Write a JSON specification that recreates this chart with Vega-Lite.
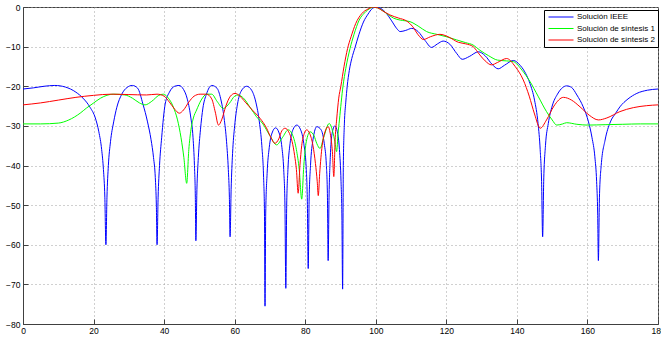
{
  "$schema": "https://vega.github.io/schema/vega-lite/v6.json",
  "autosize": {"type": "none"},
  "width": 635,
  "height": 317,
  "padding": {"left": 23, "top": 7, "right": 3, "bottom": 17},
  "background": "#ffffff",
  "config": {
    "view": {"stroke": "#404040", "strokeWidth": 1},
    "font": "Liberation Sans",
    "axis": {
      "domain": true,
      "domainColor": "#404040",
      "grid": true,
      "gridColor": "#a0a0a0",
      "gridDash": [1, 3],
      "gridWidth": 1,
      "tickColor": "#404040",
      "tickSize": -5,
      "labelFont": "Liberation Sans",
      "labelFontSize": 8.5,
      "labelColor": "#000000",
      "title": null
    }
  },
  "data": {
    "values": [
      {"x": 0, "y": -20.7, "s": "Solución IEEE"},
      {"x": 3, "y": -20.4, "s": "Solución IEEE"},
      {"x": 6, "y": -20.0, "s": "Solución IEEE"},
      {"x": 9, "y": -19.8, "s": "Solución IEEE"},
      {"x": 12, "y": -20.2, "s": "Solución IEEE"},
      {"x": 15, "y": -21.5, "s": "Solución IEEE"},
      {"x": 17, "y": -23.0, "s": "Solución IEEE"},
      {"x": 19, "y": -25.3, "s": "Solución IEEE"},
      {"x": 20.5, "y": -28, "s": "Solución IEEE"},
      {"x": 21.5, "y": -31.5, "s": "Solución IEEE"},
      {"x": 22.3, "y": -36, "s": "Solución IEEE"},
      {"x": 22.8, "y": -41, "s": "Solución IEEE"},
      {"x": 23.2, "y": -48, "s": "Solución IEEE"},
      {"x": 23.5, "y": -60, "s": "Solución IEEE"},
      {"x": 23.8, "y": -48, "s": "Solución IEEE"},
      {"x": 24.2, "y": -40, "s": "Solución IEEE"},
      {"x": 24.8, "y": -34, "s": "Solución IEEE"},
      {"x": 25.7, "y": -29, "s": "Solución IEEE"},
      {"x": 26.6, "y": -25.3, "s": "Solución IEEE"},
      {"x": 28, "y": -22, "s": "Solución IEEE"},
      {"x": 29.5, "y": -20.3, "s": "Solución IEEE"},
      {"x": 31, "y": -19.8, "s": "Solución IEEE"},
      {"x": 32.5, "y": -20.5, "s": "Solución IEEE"},
      {"x": 34, "y": -24.5, "s": "Solución IEEE"},
      {"x": 35.3, "y": -29, "s": "Solución IEEE"},
      {"x": 36.3, "y": -33.5, "s": "Solución IEEE"},
      {"x": 37, "y": -38, "s": "Solución IEEE"},
      {"x": 37.5, "y": -43, "s": "Solución IEEE"},
      {"x": 37.8, "y": -50, "s": "Solución IEEE"},
      {"x": 38, "y": -60, "s": "Solución IEEE"},
      {"x": 38.3, "y": -48, "s": "Solución IEEE"},
      {"x": 38.7, "y": -40, "s": "Solución IEEE"},
      {"x": 39.3, "y": -33, "s": "Solución IEEE"},
      {"x": 40.3, "y": -24.5, "s": "Solución IEEE"},
      {"x": 41.5, "y": -21.5, "s": "Solución IEEE"},
      {"x": 43, "y": -20, "s": "Solución IEEE"},
      {"x": 44.2, "y": -19.8, "s": "Solución IEEE"},
      {"x": 45.5, "y": -20.8, "s": "Solución IEEE"},
      {"x": 46.5, "y": -23, "s": "Solución IEEE"},
      {"x": 47.5, "y": -27.5, "s": "Solución IEEE"},
      {"x": 48.2, "y": -33, "s": "Solución IEEE"},
      {"x": 48.6, "y": -40, "s": "Solución IEEE"},
      {"x": 48.85, "y": -48, "s": "Solución IEEE"},
      {"x": 49, "y": -59, "s": "Solución IEEE"},
      {"x": 49.3, "y": -46, "s": "Solución IEEE"},
      {"x": 49.7, "y": -38, "s": "Solución IEEE"},
      {"x": 50.3, "y": -31, "s": "Solución IEEE"},
      {"x": 51, "y": -25.5, "s": "Solución IEEE"},
      {"x": 52, "y": -22, "s": "Solución IEEE"},
      {"x": 53.5, "y": -19.8, "s": "Solución IEEE"},
      {"x": 55, "y": -20.5, "s": "Solución IEEE"},
      {"x": 56, "y": -23, "s": "Solución IEEE"},
      {"x": 57, "y": -28, "s": "Solución IEEE"},
      {"x": 57.7, "y": -34, "s": "Solución IEEE"},
      {"x": 58.2, "y": -41, "s": "Solución IEEE"},
      {"x": 58.5, "y": -48, "s": "Solución IEEE"},
      {"x": 58.7, "y": -58, "s": "Solución IEEE"},
      {"x": 59, "y": -46, "s": "Solución IEEE"},
      {"x": 59.4, "y": -37, "s": "Solución IEEE"},
      {"x": 60, "y": -30, "s": "Solución IEEE"},
      {"x": 60.8, "y": -24.5, "s": "Solución IEEE"},
      {"x": 61.8, "y": -21.3, "s": "Solución IEEE"},
      {"x": 63.4, "y": -20, "s": "Solución IEEE"},
      {"x": 64.8, "y": -21, "s": "Solución IEEE"},
      {"x": 66, "y": -24, "s": "Solución IEEE"},
      {"x": 67, "y": -29, "s": "Solución IEEE"},
      {"x": 67.7, "y": -35, "s": "Solución IEEE"},
      {"x": 68.2, "y": -43, "s": "Solución IEEE"},
      {"x": 68.45, "y": -52, "s": "Solución IEEE"},
      {"x": 68.6, "y": -75.5, "s": "Solución IEEE"},
      {"x": 68.8, "y": -52, "s": "Solución IEEE"},
      {"x": 69.2, "y": -42, "s": "Solución IEEE"},
      {"x": 69.8, "y": -35.5, "s": "Solución IEEE"},
      {"x": 70.6, "y": -31.8, "s": "Solución IEEE"},
      {"x": 71.6, "y": -30.5, "s": "Solución IEEE"},
      {"x": 72.6, "y": -31.8, "s": "Solución IEEE"},
      {"x": 73.4, "y": -35.5, "s": "Solución IEEE"},
      {"x": 73.9, "y": -41, "s": "Solución IEEE"},
      {"x": 74.25, "y": -50, "s": "Solución IEEE"},
      {"x": 74.5, "y": -71, "s": "Solución IEEE"},
      {"x": 74.75, "y": -50, "s": "Solución IEEE"},
      {"x": 75.1, "y": -41, "s": "Solución IEEE"},
      {"x": 75.7, "y": -34.5, "s": "Solución IEEE"},
      {"x": 76.5, "y": -31, "s": "Solución IEEE"},
      {"x": 77.6, "y": -29.8, "s": "Solución IEEE"},
      {"x": 78.7, "y": -31, "s": "Solución IEEE"},
      {"x": 79.6, "y": -34.5, "s": "Solución IEEE"},
      {"x": 80.3, "y": -41, "s": "Solución IEEE"},
      {"x": 80.6, "y": -49, "s": "Solución IEEE"},
      {"x": 80.85, "y": -66, "s": "Solución IEEE"},
      {"x": 81.1, "y": -49, "s": "Solución IEEE"},
      {"x": 81.5, "y": -40, "s": "Solución IEEE"},
      {"x": 82.2, "y": -33.5, "s": "Solución IEEE"},
      {"x": 83.3, "y": -30.2, "s": "Solución IEEE"},
      {"x": 84.5, "y": -31, "s": "Solución IEEE"},
      {"x": 85.4, "y": -34.5, "s": "Solución IEEE"},
      {"x": 86, "y": -40, "s": "Solución IEEE"},
      {"x": 86.3, "y": -48, "s": "Solución IEEE"},
      {"x": 86.5, "y": -64, "s": "Solución IEEE"},
      {"x": 86.75, "y": -48, "s": "Solución IEEE"},
      {"x": 87.1, "y": -38, "s": "Solución IEEE"},
      {"x": 87.6, "y": -32, "s": "Solución IEEE"},
      {"x": 88.4, "y": -30, "s": "Solución IEEE"},
      {"x": 89.1, "y": -31.5, "s": "Solución IEEE"},
      {"x": 89.7, "y": -36, "s": "Solución IEEE"},
      {"x": 90.15, "y": -44, "s": "Solución IEEE"},
      {"x": 90.4, "y": -53, "s": "Solución IEEE"},
      {"x": 90.6, "y": -71.2, "s": "Solución IEEE"},
      {"x": 90.8, "y": -40, "s": "Solución IEEE"},
      {"x": 91.1, "y": -29.5, "s": "Solución IEEE"},
      {"x": 91.5, "y": -24, "s": "Solución IEEE"},
      {"x": 91.9, "y": -20, "s": "Solución IEEE"},
      {"x": 92.5, "y": -16, "s": "Solución IEEE"},
      {"x": 93.2, "y": -13, "s": "Solución IEEE"},
      {"x": 94.1, "y": -10.3, "s": "Solución IEEE"},
      {"x": 95.2, "y": -7, "s": "Solución IEEE"},
      {"x": 96.5, "y": -3.8, "s": "Solución IEEE"},
      {"x": 97.8, "y": -1.8, "s": "Solución IEEE"},
      {"x": 99, "y": -0.4, "s": "Solución IEEE"},
      {"x": 100.2, "y": 0, "s": "Solución IEEE"},
      {"x": 101.5, "y": -0.4, "s": "Solución IEEE"},
      {"x": 103, "y": -1.6, "s": "Solución IEEE"},
      {"x": 104.5, "y": -3.5, "s": "Solución IEEE"},
      {"x": 106, "y": -5.5, "s": "Solución IEEE"},
      {"x": 106.9, "y": -6.2, "s": "Solución IEEE"},
      {"x": 108.5, "y": -5.9, "s": "Solución IEEE"},
      {"x": 110.2, "y": -5.4, "s": "Solución IEEE"},
      {"x": 112, "y": -6.2, "s": "Solución IEEE"},
      {"x": 114, "y": -8.5, "s": "Solución IEEE"},
      {"x": 115.8, "y": -10.2, "s": "Solución IEEE"},
      {"x": 117.5, "y": -9.3, "s": "Solución IEEE"},
      {"x": 119.1, "y": -8.6, "s": "Solución IEEE"},
      {"x": 121, "y": -9.4, "s": "Solución IEEE"},
      {"x": 123, "y": -11.8, "s": "Solución IEEE"},
      {"x": 124.5, "y": -13.2, "s": "Solución IEEE"},
      {"x": 126.5, "y": -12.5, "s": "Solución IEEE"},
      {"x": 129.1, "y": -11.3, "s": "Solución IEEE"},
      {"x": 131, "y": -12.3, "s": "Solución IEEE"},
      {"x": 133, "y": -14.5, "s": "Solución IEEE"},
      {"x": 134.7, "y": -15.6, "s": "Solución IEEE"},
      {"x": 136.5, "y": -14.7, "s": "Solución IEEE"},
      {"x": 139, "y": -13.5, "s": "Solución IEEE"},
      {"x": 141, "y": -14.8, "s": "Solución IEEE"},
      {"x": 142.5, "y": -16.8, "s": "Solución IEEE"},
      {"x": 143.7, "y": -19.3, "s": "Solución IEEE"},
      {"x": 145, "y": -23.5, "s": "Solución IEEE"},
      {"x": 146, "y": -29.4, "s": "Solución IEEE"},
      {"x": 146.6, "y": -36, "s": "Solución IEEE"},
      {"x": 147, "y": -44, "s": "Solución IEEE"},
      {"x": 147.3, "y": -58, "s": "Solución IEEE"},
      {"x": 147.6, "y": -44, "s": "Solución IEEE"},
      {"x": 148.1, "y": -35, "s": "Solución IEEE"},
      {"x": 148.9, "y": -29.4, "s": "Solución IEEE"},
      {"x": 150, "y": -25, "s": "Solución IEEE"},
      {"x": 151.5, "y": -22, "s": "Solución IEEE"},
      {"x": 153, "y": -20.3, "s": "Solución IEEE"},
      {"x": 154.1, "y": -19.9, "s": "Solución IEEE"},
      {"x": 155.5, "y": -20.3, "s": "Solución IEEE"},
      {"x": 157, "y": -22.2, "s": "Solución IEEE"},
      {"x": 158.8, "y": -25.2, "s": "Solución IEEE"},
      {"x": 160.3, "y": -29, "s": "Solución IEEE"},
      {"x": 161.3, "y": -33, "s": "Solución IEEE"},
      {"x": 162.1, "y": -37.8, "s": "Solución IEEE"},
      {"x": 162.6, "y": -44, "s": "Solución IEEE"},
      {"x": 162.9, "y": -52, "s": "Solución IEEE"},
      {"x": 163.1, "y": -64, "s": "Solución IEEE"},
      {"x": 163.4, "y": -48, "s": "Solución IEEE"},
      {"x": 163.9, "y": -40, "s": "Solución IEEE"},
      {"x": 165, "y": -33.6, "s": "Solución IEEE"},
      {"x": 166.5, "y": -29, "s": "Solución IEEE"},
      {"x": 168, "y": -26.8, "s": "Solución IEEE"},
      {"x": 169.2, "y": -25.2, "s": "Solución IEEE"},
      {"x": 171.5, "y": -23.2, "s": "Solución IEEE"},
      {"x": 174, "y": -21.8, "s": "Solución IEEE"},
      {"x": 177, "y": -21.0, "s": "Solución IEEE"},
      {"x": 180, "y": -20.7, "s": "Solución IEEE"},

      {"x": 0, "y": -29.5, "s": "Solución de síntesis 1"},
      {"x": 5, "y": -29.5, "s": "Solución de síntesis 1"},
      {"x": 10, "y": -29.3, "s": "Solución de síntesis 1"},
      {"x": 13, "y": -28.5, "s": "Solución de síntesis 1"},
      {"x": 16.2, "y": -26.8, "s": "Solución de síntesis 1"},
      {"x": 18, "y": -25.5, "s": "Solución de síntesis 1"},
      {"x": 19.9, "y": -24.3, "s": "Solución de síntesis 1"},
      {"x": 22, "y": -23, "s": "Solución de síntesis 1"},
      {"x": 25.6, "y": -22, "s": "Solución de síntesis 1"},
      {"x": 28.9, "y": -22.2, "s": "Solución de síntesis 1"},
      {"x": 31, "y": -23, "s": "Solución de síntesis 1"},
      {"x": 33, "y": -24.2, "s": "Solución de síntesis 1"},
      {"x": 34.6, "y": -24.7, "s": "Solución de síntesis 1"},
      {"x": 36.5, "y": -23.8, "s": "Solución de síntesis 1"},
      {"x": 38.5, "y": -22.3, "s": "Solución de síntesis 1"},
      {"x": 39.8, "y": -22, "s": "Solución de síntesis 1"},
      {"x": 41.2, "y": -23, "s": "Solución de síntesis 1"},
      {"x": 42.6, "y": -25.2, "s": "Solución de síntesis 1"},
      {"x": 43.8, "y": -28.5, "s": "Solución de síntesis 1"},
      {"x": 44.8, "y": -33, "s": "Solución de síntesis 1"},
      {"x": 45.6, "y": -38, "s": "Solución de síntesis 1"},
      {"x": 46.4, "y": -44.5, "s": "Solución de síntesis 1"},
      {"x": 47, "y": -36, "s": "Solución de síntesis 1"},
      {"x": 47.6, "y": -31, "s": "Solución de síntesis 1"},
      {"x": 48.3, "y": -28, "s": "Solución de síntesis 1"},
      {"x": 49.2, "y": -26, "s": "Solución de síntesis 1"},
      {"x": 50.5, "y": -23.5, "s": "Solución de síntesis 1"},
      {"x": 52.1, "y": -22, "s": "Solución de síntesis 1"},
      {"x": 53.5, "y": -22, "s": "Solución de síntesis 1"},
      {"x": 55, "y": -23.8, "s": "Solución de síntesis 1"},
      {"x": 56.8, "y": -25.6, "s": "Solución de síntesis 1"},
      {"x": 58.5, "y": -24.3, "s": "Solución de síntesis 1"},
      {"x": 60, "y": -22.5, "s": "Solución de síntesis 1"},
      {"x": 61, "y": -22.2, "s": "Solución de síntesis 1"},
      {"x": 62.5, "y": -23, "s": "Solución de síntesis 1"},
      {"x": 64.5, "y": -25.5, "s": "Solución de síntesis 1"},
      {"x": 66.2, "y": -27.7, "s": "Solución de síntesis 1"},
      {"x": 68, "y": -29.5, "s": "Solución de síntesis 1"},
      {"x": 70, "y": -32.5, "s": "Solución de síntesis 1"},
      {"x": 71.9, "y": -34.8, "s": "Solución de síntesis 1"},
      {"x": 73.5, "y": -33, "s": "Solución de síntesis 1"},
      {"x": 75.2, "y": -31, "s": "Solución de síntesis 1"},
      {"x": 76.5, "y": -32.5, "s": "Solución de síntesis 1"},
      {"x": 77.5, "y": -36, "s": "Solución de síntesis 1"},
      {"x": 78.3, "y": -41, "s": "Solución de síntesis 1"},
      {"x": 79, "y": -48.5, "s": "Solución de síntesis 1"},
      {"x": 79.6, "y": -40, "s": "Solución de síntesis 1"},
      {"x": 80.3, "y": -34, "s": "Solución de síntesis 1"},
      {"x": 81.4, "y": -31.5, "s": "Solución de síntesis 1"},
      {"x": 82.5, "y": -32.5, "s": "Solución de síntesis 1"},
      {"x": 83.3, "y": -34.5, "s": "Solución de síntesis 1"},
      {"x": 84.2, "y": -35.7, "s": "Solución de síntesis 1"},
      {"x": 85.2, "y": -33, "s": "Solución de síntesis 1"},
      {"x": 86.8, "y": -29.4, "s": "Solución de síntesis 1"},
      {"x": 87.8, "y": -31.5, "s": "Solución de síntesis 1"},
      {"x": 88.4, "y": -34, "s": "Solución de síntesis 1"},
      {"x": 88.9, "y": -36.5, "s": "Solución de síntesis 1"},
      {"x": 89.3, "y": -32, "s": "Solución de síntesis 1"},
      {"x": 89.7, "y": -28.5, "s": "Solución de síntesis 1"},
      {"x": 90.7, "y": -20, "s": "Solución de síntesis 1"},
      {"x": 91.5, "y": -15.5, "s": "Solución de síntesis 1"},
      {"x": 92.7, "y": -10.5, "s": "Solución de síntesis 1"},
      {"x": 93.8, "y": -7, "s": "Solución de síntesis 1"},
      {"x": 95.3, "y": -3.3, "s": "Solución de síntesis 1"},
      {"x": 96.8, "y": -1.5, "s": "Solución de síntesis 1"},
      {"x": 98.5, "y": -0.3, "s": "Solución de síntesis 1"},
      {"x": 99.6, "y": 0, "s": "Solución de síntesis 1"},
      {"x": 101, "y": -0.4, "s": "Solución de síntesis 1"},
      {"x": 103, "y": -1.6, "s": "Solución de síntesis 1"},
      {"x": 105, "y": -2.8, "s": "Solución de síntesis 1"},
      {"x": 106.9, "y": -3.3, "s": "Solución de síntesis 1"},
      {"x": 109.7, "y": -3.7, "s": "Solución de síntesis 1"},
      {"x": 112, "y": -4.8, "s": "Solución de síntesis 1"},
      {"x": 114.4, "y": -6.2, "s": "Solución de síntesis 1"},
      {"x": 117.3, "y": -6.9, "s": "Solución de síntesis 1"},
      {"x": 120, "y": -7.5, "s": "Solución de síntesis 1"},
      {"x": 122.9, "y": -8.3, "s": "Solución de síntesis 1"},
      {"x": 125.5, "y": -9, "s": "Solución de síntesis 1"},
      {"x": 127.6, "y": -9.6, "s": "Solución de síntesis 1"},
      {"x": 129.5, "y": -10.9, "s": "Solución de síntesis 1"},
      {"x": 132, "y": -12.3, "s": "Solución de síntesis 1"},
      {"x": 134.5, "y": -13.4, "s": "Solución de síntesis 1"},
      {"x": 137, "y": -13.6, "s": "Solución de síntesis 1"},
      {"x": 139, "y": -13.8, "s": "Solución de síntesis 1"},
      {"x": 141.5, "y": -16, "s": "Solución de síntesis 1"},
      {"x": 143.7, "y": -18.8, "s": "Solución de síntesis 1"},
      {"x": 146, "y": -22.5, "s": "Solución de síntesis 1"},
      {"x": 148.4, "y": -26.4, "s": "Solución de síntesis 1"},
      {"x": 150, "y": -28.5, "s": "Solución de síntesis 1"},
      {"x": 151.3, "y": -29.8, "s": "Solución de síntesis 1"},
      {"x": 153, "y": -29.5, "s": "Solución de síntesis 1"},
      {"x": 154.1, "y": -29.2, "s": "Solución de síntesis 1"},
      {"x": 157, "y": -29.6, "s": "Solución de síntesis 1"},
      {"x": 160, "y": -29.8, "s": "Solución de síntesis 1"},
      {"x": 165, "y": -29.7, "s": "Solución de síntesis 1"},
      {"x": 170, "y": -29.6, "s": "Solución de síntesis 1"},
      {"x": 175, "y": -29.5, "s": "Solución de síntesis 1"},
      {"x": 180, "y": -29.5, "s": "Solución de síntesis 1"},

      {"x": 0, "y": -24.7, "s": "Solución de síntesis 2"},
      {"x": 5, "y": -24.2, "s": "Solución de síntesis 2"},
      {"x": 10, "y": -23.5, "s": "Solución de síntesis 2"},
      {"x": 15, "y": -22.8, "s": "Solución de síntesis 2"},
      {"x": 20, "y": -22.3, "s": "Solución de síntesis 2"},
      {"x": 25, "y": -22, "s": "Solución de síntesis 2"},
      {"x": 30, "y": -22.1, "s": "Solución de síntesis 2"},
      {"x": 35, "y": -22.2, "s": "Solución de síntesis 2"},
      {"x": 38, "y": -22, "s": "Solución de síntesis 2"},
      {"x": 40, "y": -22.5, "s": "Solución de síntesis 2"},
      {"x": 41.5, "y": -24, "s": "Solución de síntesis 2"},
      {"x": 43, "y": -25.8, "s": "Solución de síntesis 2"},
      {"x": 44.3, "y": -26.8, "s": "Solución de síntesis 2"},
      {"x": 45.5, "y": -26, "s": "Solución de síntesis 2"},
      {"x": 47, "y": -24, "s": "Solución de síntesis 2"},
      {"x": 48.5, "y": -22.5, "s": "Solución de síntesis 2"},
      {"x": 50.2, "y": -22, "s": "Solución de síntesis 2"},
      {"x": 52, "y": -22, "s": "Solución de síntesis 2"},
      {"x": 53.5, "y": -23.2, "s": "Solución de síntesis 2"},
      {"x": 54.5, "y": -26.5, "s": "Solución de síntesis 2"},
      {"x": 55.4, "y": -29.8, "s": "Solución de síntesis 2"},
      {"x": 56.3, "y": -28.5, "s": "Solución de síntesis 2"},
      {"x": 57.5, "y": -25, "s": "Solución de síntesis 2"},
      {"x": 58.8, "y": -22.5, "s": "Solución de síntesis 2"},
      {"x": 60.1, "y": -21.8, "s": "Solución de síntesis 2"},
      {"x": 61.5, "y": -22.5, "s": "Solución de síntesis 2"},
      {"x": 63, "y": -24, "s": "Solución de síntesis 2"},
      {"x": 65, "y": -26, "s": "Solución de síntesis 2"},
      {"x": 67.2, "y": -28.1, "s": "Solución de síntesis 2"},
      {"x": 69, "y": -30.5, "s": "Solución de síntesis 2"},
      {"x": 70.3, "y": -33, "s": "Solución de síntesis 2"},
      {"x": 71.4, "y": -34.4, "s": "Solución de síntesis 2"},
      {"x": 72.5, "y": -33.3, "s": "Solución de síntesis 2"},
      {"x": 73.4, "y": -31.2, "s": "Solución de síntesis 2"},
      {"x": 74.3, "y": -30.6, "s": "Solución de síntesis 2"},
      {"x": 75.3, "y": -31.5, "s": "Solución de síntesis 2"},
      {"x": 76.3, "y": -34, "s": "Solución de síntesis 2"},
      {"x": 77, "y": -37.5, "s": "Solución de síntesis 2"},
      {"x": 77.5, "y": -41, "s": "Solución de síntesis 2"},
      {"x": 78, "y": -47, "s": "Solución de síntesis 2"},
      {"x": 78.5, "y": -40, "s": "Solución de síntesis 2"},
      {"x": 79, "y": -35, "s": "Solución de síntesis 2"},
      {"x": 79.7, "y": -32, "s": "Solución de síntesis 2"},
      {"x": 80.4, "y": -31, "s": "Solución de síntesis 2"},
      {"x": 81.3, "y": -32, "s": "Solución de síntesis 2"},
      {"x": 82.2, "y": -35, "s": "Solución de síntesis 2"},
      {"x": 82.9, "y": -39.5, "s": "Solución de síntesis 2"},
      {"x": 83.4, "y": -44, "s": "Solución de síntesis 2"},
      {"x": 83.7, "y": -47.6, "s": "Solución de síntesis 2"},
      {"x": 84.1, "y": -42, "s": "Solución de síntesis 2"},
      {"x": 84.8, "y": -35, "s": "Solución de síntesis 2"},
      {"x": 85.6, "y": -31.5, "s": "Solución de síntesis 2"},
      {"x": 86.5, "y": -30.2, "s": "Solución de síntesis 2"},
      {"x": 87.2, "y": -32.5, "s": "Solución de síntesis 2"},
      {"x": 87.7, "y": -36.5, "s": "Solución de síntesis 2"},
      {"x": 88.1, "y": -42.8, "s": "Solución de síntesis 2"},
      {"x": 88.5, "y": -33, "s": "Solución de síntesis 2"},
      {"x": 88.9, "y": -28.5, "s": "Solución de síntesis 2"},
      {"x": 89.5, "y": -23, "s": "Solución de síntesis 2"},
      {"x": 90.1, "y": -20, "s": "Solución de síntesis 2"},
      {"x": 91, "y": -15, "s": "Solución de síntesis 2"},
      {"x": 92, "y": -10.5, "s": "Solución de síntesis 2"},
      {"x": 93, "y": -7.5, "s": "Solución de síntesis 2"},
      {"x": 94.3, "y": -4.2, "s": "Solución de síntesis 2"},
      {"x": 96, "y": -1.7, "s": "Solución de síntesis 2"},
      {"x": 97.8, "y": -0.5, "s": "Solución de síntesis 2"},
      {"x": 99.2, "y": 0, "s": "Solución de síntesis 2"},
      {"x": 100.5, "y": -0.2, "s": "Solución de síntesis 2"},
      {"x": 102, "y": -1.0, "s": "Solución de síntesis 2"},
      {"x": 104, "y": -2, "s": "Solución de síntesis 2"},
      {"x": 106.5, "y": -2.8, "s": "Solución de síntesis 2"},
      {"x": 108.7, "y": -3.5, "s": "Solución de síntesis 2"},
      {"x": 110.5, "y": -5, "s": "Solución de síntesis 2"},
      {"x": 112, "y": -7, "s": "Solución de síntesis 2"},
      {"x": 113.5, "y": -8.2, "s": "Solución de síntesis 2"},
      {"x": 115.5, "y": -7.5, "s": "Solución de síntesis 2"},
      {"x": 118.2, "y": -6.9, "s": "Solución de síntesis 2"},
      {"x": 120.5, "y": -7.5, "s": "Solución de síntesis 2"},
      {"x": 123.4, "y": -8.9, "s": "Solución de síntesis 2"},
      {"x": 125.5, "y": -9.3, "s": "Solución de síntesis 2"},
      {"x": 127.6, "y": -10, "s": "Solución de síntesis 2"},
      {"x": 129.5, "y": -12.1, "s": "Solución de síntesis 2"},
      {"x": 131, "y": -13.6, "s": "Solución de síntesis 2"},
      {"x": 132.8, "y": -14.6, "s": "Solución de síntesis 2"},
      {"x": 134.5, "y": -14, "s": "Solución de síntesis 2"},
      {"x": 137.1, "y": -13, "s": "Solución de síntesis 2"},
      {"x": 139.5, "y": -15, "s": "Solución de síntesis 2"},
      {"x": 141.8, "y": -18.4, "s": "Solución de síntesis 2"},
      {"x": 143.5, "y": -22.5, "s": "Solución de síntesis 2"},
      {"x": 145, "y": -27, "s": "Solución de síntesis 2"},
      {"x": 146.6, "y": -30.6, "s": "Solución de síntesis 2"},
      {"x": 148.4, "y": -28.5, "s": "Solución de síntesis 2"},
      {"x": 150.5, "y": -25, "s": "Solución de síntesis 2"},
      {"x": 153.2, "y": -22.8, "s": "Solución de síntesis 2"},
      {"x": 155.5, "y": -23.5, "s": "Solución de síntesis 2"},
      {"x": 157.9, "y": -25.2, "s": "Solución de síntesis 2"},
      {"x": 160.5, "y": -27.3, "s": "Solución de síntesis 2"},
      {"x": 163.1, "y": -28.5, "s": "Solución de síntesis 2"},
      {"x": 165.5, "y": -28, "s": "Solución de síntesis 2"},
      {"x": 169.2, "y": -26.4, "s": "Solución de síntesis 2"},
      {"x": 173, "y": -25.4, "s": "Solución de síntesis 2"},
      {"x": 176.8, "y": -24.9, "s": "Solución de síntesis 2"},
      {"x": 180, "y": -24.7, "s": "Solución de síntesis 2"}
    ]
  },
  "mark": {"type": "line", "strokeWidth": 1, "clip": true, "interpolate": "monotone"},
  "encoding": {
    "x": {
      "field": "x", "type": "quantitative",
      "scale": {"domain": [0, 180], "nice": false, "zero": false},
      "axis": {"values": [0, 20, 40, 60, 80, 100, 120, 140, 160, 180], "labelPadding": 7, "labelFlush": false, "labelOverlap": false}
    },
    "y": {
      "field": "y", "type": "quantitative",
      "scale": {"domain": [-80, 0], "nice": false, "zero": false},
      "axis": {"values": [-80, -70, -60, -50, -40, -30, -20, -10, 0], "labelPadding": 8, "labelFlush": false, "labelOverlap": false}
    },
    "color": {
      "field": "s", "type": "nominal",
      "sort": ["Solución IEEE", "Solución de síntesis 1", "Solución de síntesis 2"],
      "scale": {"domain": ["Solución IEEE", "Solución de síntesis 1", "Solución de síntesis 2"], "range": ["#0000ff", "#00ff00", "#ff0000"]},
      "legend": {
        "title": null,
        "orient": "none",
        "legendX": 521,
        "legendY": 3,
        "strokeColor": "#000000",
        "fillColor": "#ffffff",
        "padding": 3,
        "symbolType": "M-5,0H5",
        "symbolSize": 25,
        "symbolStrokeWidth": 1,
        "symbolOffset": 10,
        "labelFont": "Liberation Sans",
        "labelFontSize": 8,
        "labelOffset": 12,
        "rowPadding": 3.5
      }
    }
  }
}
